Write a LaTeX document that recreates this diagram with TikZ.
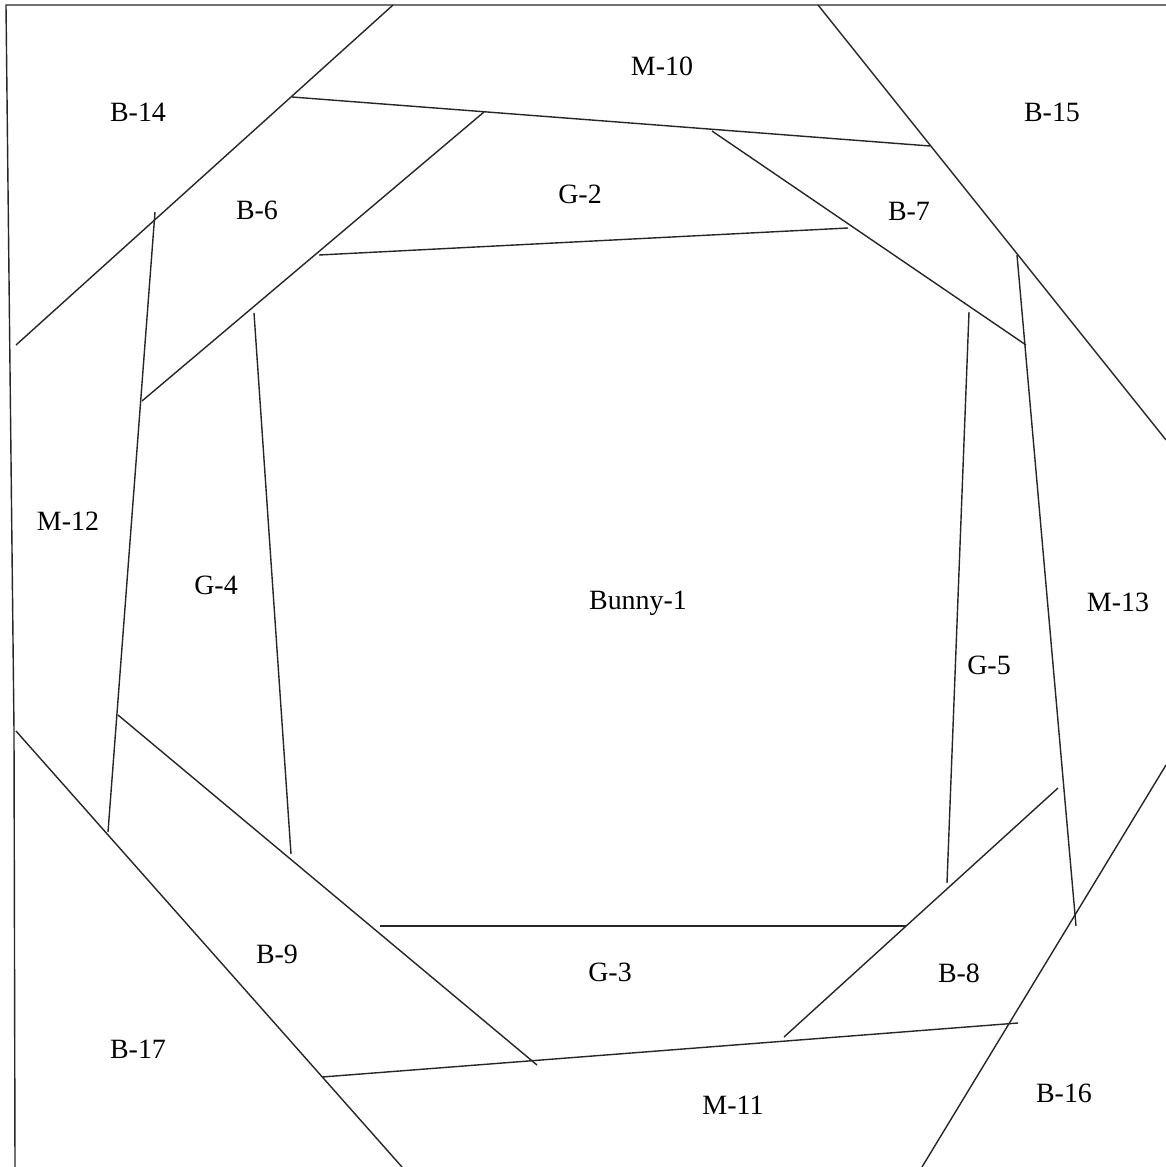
\documentclass[tikz,border=0pt]{standalone}
\usepackage{fontspec}
\setmainfont{Liberation Serif}
\begin{document}
\begin{tikzpicture}[x=0.02cm,y=-0.02cm,
  seam/.style={line width=0.8pt,black!85},
  lbl/.style={font=\fontsize{15.9}{19}\selectfont,inner sep=0pt}]
\useasboundingbox (0,0) rectangle (1166,1167);
% border
\coordinate (tl) at (6,5);
\coordinate (tr) at (1166,5);
\coordinate (lm) at (14,730);
\coordinate (bl) at (15,1167);
\draw[seam] (tr) -- (tl) -- (lm) -- (bl);
% endpoints
\coordinate (a1) at (16,345);   \coordinate (a2) at (393,5);
\coordinate (b1) at (292,97);   \coordinate (b2) at (930,146);
\coordinate (c1) at (142,401);  \coordinate (c2) at (484,112);
\coordinate (d1) at (319,255);  \coordinate (d2) at (848,228);
\coordinate (e1) at (155,212);  \coordinate (e2) at (108,832);
\coordinate (f1) at (254,313);  \coordinate (f2) at (291,854);
\coordinate (g1) at (712,131);  \coordinate (g2) at (1026,345);
\coordinate (h1) at (818,5);    \coordinate (h2) at (1166,440);
\coordinate (i1) at (1017,255); \coordinate (i2) at (1076,926);
\coordinate (j1) at (969,312);  \coordinate (j2) at (947,883);
\coordinate (k1) at (1166,765); \coordinate (k2) at (922,1167);
\coordinate (l1) at (1058,788); \coordinate (l2) at (784,1037);
\coordinate (m1) at (380,926);  \coordinate (m2) at (906,926);
\coordinate (n1) at (322,1077); \coordinate (n2) at (1018,1023);
\coordinate (o1) at (118,715);  \coordinate (o2) at (537,1065);
\coordinate (p1) at (16,731);   \coordinate (p2) at (402,1167);
\foreach \s in {a,b,c,d,e,f,g,h,i,j,k,l,m,n,o,p}
  \draw[seam] (\s1) -- (\s2);
% labels
\node[lbl] (m10) at (662,66) {M-10};
\node[lbl] (b14) at (138,112) {B-14};
\node[lbl] (b15) at (1052,112) {B-15};
\node[lbl] (b6) at (257,210) {B-6};
\node[lbl] (g2) at (580,194) {G-2};
\node[lbl] (b7) at (909,211) {B-7};
\node[lbl] (m12) at (68,521) {M-12};
\node[lbl] (g4) at (216,585) {G-4};
\node[lbl] (bunny) at (638,603) {Bunny-1};
\node[lbl] (m13) at (1118,602) {M-13};
\node[lbl] (g5) at (989,665) {G-5};
\node[lbl] (b9) at (277,954) {B-9};
\node[lbl] (g3) at (610,972) {G-3};
\node[lbl] (b8) at (959,973) {B-8};
\node[lbl] (b17) at (138,1049) {B-17};
\node[lbl] (m11) at (733,1105) {M-11};
\node[lbl] (b16) at (1064,1093) {B-16};
\end{tikzpicture}
\end{document}
